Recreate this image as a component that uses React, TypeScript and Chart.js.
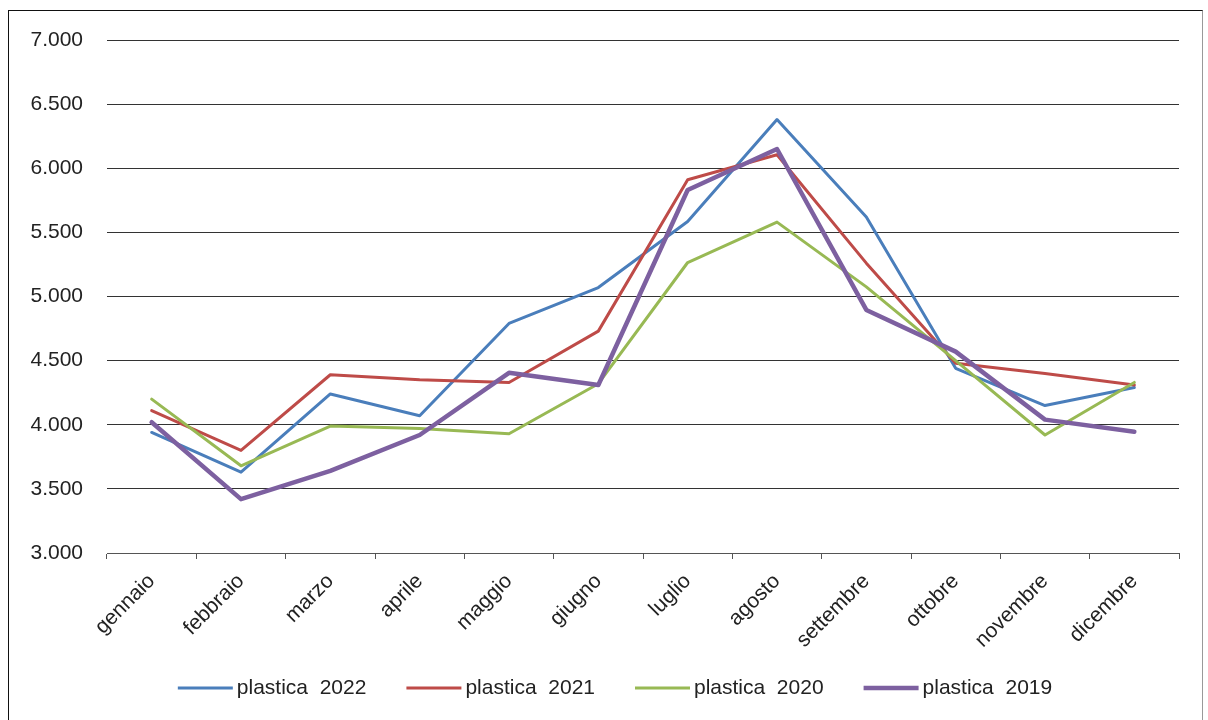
import React, { useEffect, useRef } from "react";
import { Chart, registerables } from "chart.js";

Chart.register(...registerables);

const months = ["gennaio", "febbraio", "marzo", "aprile", "maggio", "giugno", "luglio", "agosto", "settembre", "ottobre", "novembre", "dicembre"];
const plastica2022 = [3940, 3630, 4240, 4070, 4790, 5070, 5585, 6380, 5620, 4440, 4150, 4290];
const plastica2021 = [4110, 3800, 4390, 4350, 4330, 4730, 5910, 6105, 5260, 4480, 4400, 4310];
const plastica2020 = [4200, 3680, 3990, 3970, 3930, 4320, 5265, 5580, 5075, 4500, 3920, 4330];
const plastica2019 = [4020, 3420, 3640, 3920, 4405, 4310, 5830, 6150, 4895, 4570, 4040, 3945];
const seriesLabels = ["plastica  2022", "plastica  2021", "plastica  2020", "plastica  2019"];
const seriesColors = ["#4a7ebb", "#be4b48", "#98b954", "#7d60a0"];
const seriesWidths = [3, 3, 3, 4.5];
const seriesOrder = [4, 3, 2, 1];

const FONT = "'Liberation Sans', Arial, sans-serif";
const FONT_SIZE = 21;

const legendPlugin = {
  id: "customLegend",
  afterDraw(chart: any) {
    const ctx = chart.ctx;
    const ds = chart.data.datasets;
    ctx.save();
    ctx.font = `${FONT_SIZE}px ${FONT}`;
    const lineW = 55;
    const gap = 4;
    const spacing = 40;
    const widths = ds.map((d: any) => lineW + gap + ctx.measureText(d.label).width);
    const total = widths.reduce((a: number, b: number) => a + b, 0) + spacing * (ds.length - 1);
    let x = 615 - total / 2;
    const y = 688;
    ds.forEach((d: any, i: number) => {
      ctx.beginPath();
      ctx.strokeStyle = d.borderColor;
      ctx.lineWidth = d.borderWidth;
      ctx.lineCap = "butt";
      ctx.moveTo(x, y);
      ctx.lineTo(x + lineW, y);
      ctx.stroke();
      ctx.fillStyle = "#222";
      ctx.textBaseline = "middle";
      ctx.textAlign = "left";
      ctx.fillText(d.label, x + lineW + gap, y);
      x += widths[i] + spacing;
    });
    ctx.restore();
  },
};

export default function App() {
  const ref = useRef<HTMLCanvasElement | null>(null);
  useEffect(() => {
    if (!ref.current) return;
    const values = [plastica2022, plastica2021, plastica2020, plastica2019];
    const chart = new Chart(ref.current, {
      type: "line",
      data: {
        labels: months,
        datasets: values.map((v, i) => ({
          label: seriesLabels[i],
          data: v,
          borderColor: seriesColors[i],
          backgroundColor: seriesColors[i],
          borderWidth: seriesWidths[i],
          pointRadius: 0,
          tension: 0,
          fill: false,
          borderJoinStyle: "round" as const,
          borderCapStyle: "round" as const,
          order: seriesOrder[i],
        })),
      },
      options: {
        animation: false,
        responsive: false,
        maintainAspectRatio: false,
        layout: { padding: { top: 40, right: 29, bottom: 0, left: 0 } },
        plugins: {
          tooltip: { enabled: false },
          legend: { display: false },
        },
        scales: {
          x: {
            offset: true,
            grid: { display: true, drawOnChartArea: false, offset: true, tickLength: 6, color: "#555", lineWidth: 1 },
            border: { display: true, color: "#555" },
            ticks: {
              color: "#222",
              font: { family: FONT, size: FONT_SIZE },
              minRotation: 45,
              maxRotation: 45,
              padding: 10,
              autoSkip: false,
            },
            afterFit: (scale: any) => {
              scale.height = 167;
            },
          },
          y: {
            min: 3000,
            max: 7000,
            grid: { color: "#333", lineWidth: 1, drawTicks: false },
            border: { display: false },
            ticks: {
              stepSize: 500,
              padding: 24,
              color: "#222",
              font: { family: FONT, size: FONT_SIZE },
              callback: (v: any) => Number(v).toLocaleString("de-DE"),
            },
            afterFit: (scale: any) => {
              scale.width = 107;
            },
          },
        },
      },
      plugins: [legendPlugin],
    });
    return () => chart.destroy();
  }, []);
  return (
    <div style={{ position: "fixed", left: 0, top: 0, width: 1208, height: 720, background: "#fff" }}>
      <div style={{ position: "absolute", left: 8, top: 10, width: 1193, height: 720, borderLeft: "1px solid #111", borderTop: "1px solid #111", borderRight: "1px solid #999" }} />
      <canvas ref={ref} width={1208} height={720} style={{ position: "absolute", left: 0, top: 0 }} />
    </div>
  );
}
